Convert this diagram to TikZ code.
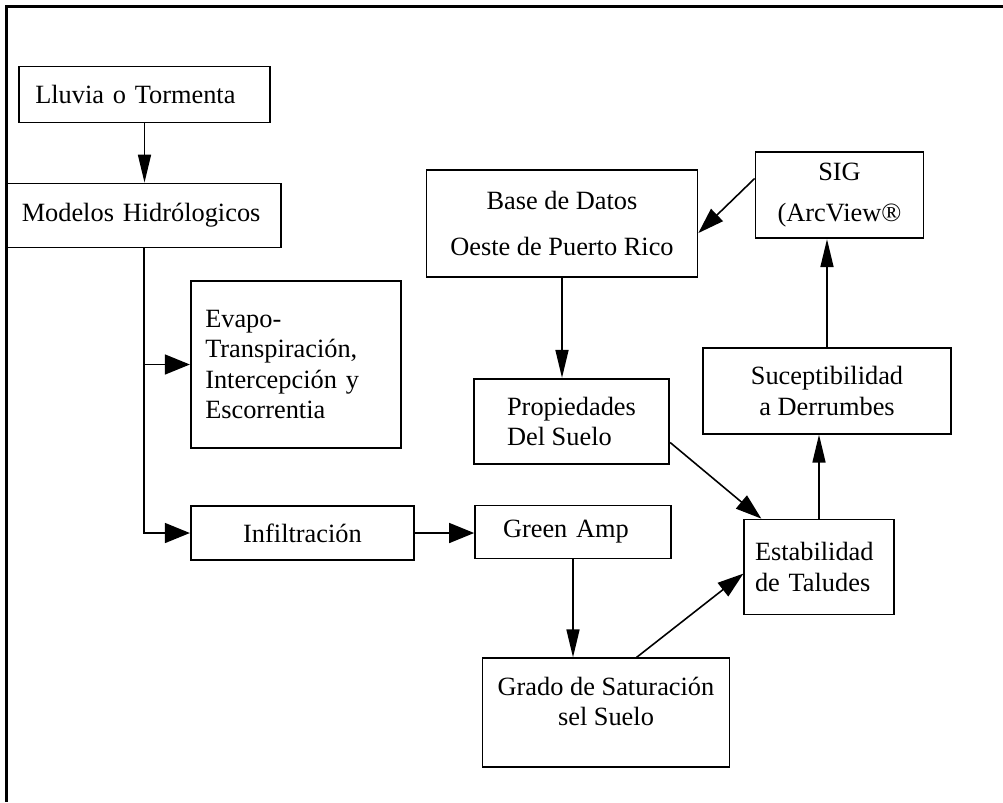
\documentclass[tikz,border=0pt]{standalone}
\usepackage{fontspec}
\setmainfont{Liberation Serif}
\usepackage{tikz}
\usetikzlibrary{arrows.meta}
\tikzset{
  font=\fontsize{15}{17.3}\selectfont,
  frame/.style={line width=1.4pt,draw=black},
  box/.style={draw=black,line width=1pt,fill=white,inner sep=2pt,align=center},
  leftbox/.style={box,align=left},
  down/.style={-{Triangle[length=5.6mm,width=2.6mm]},line width=.9pt},
  side/.style={-{Triangle[length=5mm,width=4mm]},line width=.9pt},
  slant/.style={-{Triangle[length=5.2mm,width=3.4mm]},line width=.9pt}
}
\begin{document}
\begin{tikzpicture}
\useasboundingbox (0,0) rectangle (20.06,-16.04);
\draw[frame] (20.06,-0.134) -- (0.134,-0.134) -- (0.134,-16.04);

\node[leftbox,minimum width=5.03cm,minimum height=1.12cm,text width=4.37cm] (lluvia) at (2.89,-1.89) {Lluvia o Tormenta};
\node[leftbox,minimum width=5.49cm,minimum height=1.28cm,text width=4.89cm] (modelos) at (2.88,-4.31) {Modelos Hidrólogicos};
\node[leftbox,minimum width=4.21cm,minimum height=3.34cm,text width=3.63cm] (evapo) at (5.92,-7.29) {Evapo-\\Transpiración,\\Intercepción y\\Escorrentia};
\node[box,minimum width=4.47cm,minimum height=1.08cm] (infil) at (6.05,-10.66) {Infiltración};
\node[leftbox,minimum width=3.92cm,minimum height=1.06cm,text width=2.8cm] (green) at (11.46,-10.64) {Green Amp};
\node[box,minimum width=4.94cm,minimum height=2.17cm,text depth=4.4mm] (grado) at (12.12,-14.25) {Grado de Saturación\\sel Suelo};
\node[leftbox,minimum width=2.99cm,minimum height=1.9cm,text width=2.56cm] (estab) at (16.38,-11.34) {Estabilidad\\de Taludes};
\node[leftbox,minimum width=3.91cm,minimum height=1.71cm] (prop) at (11.43,-8.43) {Propiedades\\Del Suelo};
\node[box,minimum width=5.42cm,minimum height=2.13cm] (base) at (11.24,-4.47) {Base de Datos\\[3mm]Oeste de Puerto Rico};
\node[box,minimum width=3.36cm,minimum height=1.73cm] (sig) at (16.79,-3.9) {SIG\\[2mm](ArcView®};
\node[box,minimum width=4.97cm,minimum height=1.71cm] (sucep) at (16.54,-7.82) {Suceptibilidad\\a Derrumbes};

\draw[down] (lluvia) -- (lluvia |- modelos.north);
\draw[side] (modelos.south) |- (infil.west);
\coordinate (split) at (modelos.south |- evapo.west);
\draw[side] (split) -- (evapo.west);
\draw[side] (infil.east) -- (infil.east -| green.west);
\draw[down] (green) -- (green |- grado.north);
\draw[slant] (grado.61) -- (estab.185);
\draw[slant] (prop.-12) -- (estab.140);
\draw[down] (estab) -- (estab |- sucep.south);
\draw[down] (sucep) -- (sucep |- sig.south);
\draw[slant] (sig.169) -- (base.-4);
\draw[down] (base) -- (base |- prop.north);
\end{tikzpicture}
\end{document}
